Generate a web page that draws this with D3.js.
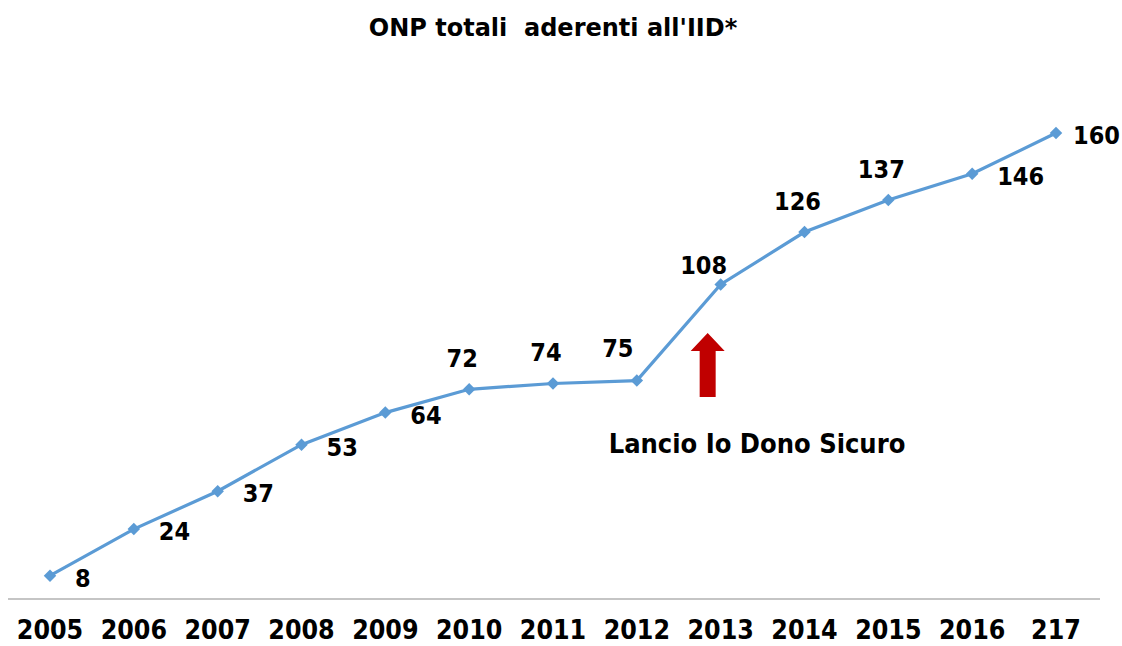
<!DOCTYPE html>
<html><head><meta charset="utf-8">
<script src="https://cdn.jsdelivr.net/npm/d3@7"></script>
<style>
body{margin:0;background:#fff;}
text{font-family:"DejaVu Sans Condensed","DejaVu Sans",sans-serif;font-weight:bold;fill:#000;}
</style></head>
<body><svg id="c" width="1122" height="646"></svg>
<script>
const categories = ["2005","2006","2007","2008","2009","2010","2011","2012","2013","2014","2015","2016","217"];
const values = [8,24,37,53,64,72,74,75,108,126,137,146,160];
const labelPlacement = ["right","right","right","right","right","above","above","aboveLeft","aboveLeft2","above","above","right","rightNear"];
const title = "ONP totali\u00a0 aderenti all'IID*";
const annotation = "Lancio Io Dono Sicuro";
const annotationCategory = "2013";

const svg = d3.select("#c");
const x = d3.scalePoint().domain(categories).range([50, 1056]);
const y = d3.scaleLinear().domain([0, 160]).range([599, 133]);

svg.append("text").attr("x", 553).attr("y", 36).attr("text-anchor","middle")
  .style("font-family","'DejaVu Sans',sans-serif")
  .style("font-size","24px").text(title);

// axis
svg.append("line").attr("x1",8).attr("x2",1100).attr("y1",y(0)).attr("y2",y(0))
  .attr("stroke","#8c8c8c").attr("stroke-width",1.2);
svg.selectAll(".xl").data(categories).enter().append("text")
  .attr("x", d=>x(d)).attr("y", 639).attr("text-anchor","middle")
  .style("font-size","26.5px").text(d=>d);

const pts = categories.map((c,i)=>({c, v:values[i], p:labelPlacement[i]}));
svg.append("path").datum(pts)
  .attr("d", d3.line().x(d=>x(d.c)).y(d=>y(d.v)))
  .attr("fill","none").attr("stroke","#5B9BD5").attr("stroke-width",3.2);
svg.selectAll(".m").data(pts).enter().append("path")
  .attr("d", d3.symbol(d3.symbolSquare, 78))
  .attr("transform", d=>`translate(${x(d.c)},${y(d.v)}) rotate(45)`)
  .attr("fill","#5B9BD5");

const off = {right:[25,11,"start"], rightNear:[17,11,"start"], above:[-7,-22,"middle"],
             aboveLeft:[-19,-24,"middle"], aboveLeft2:[-17,-10,"middle"]};
svg.selectAll(".lb").data(pts).enter().append("text")
  .attr("x", d=>x(d.c)+off[d.p][0]).attr("y", d=>y(d.v)+off[d.p][1])
  .attr("text-anchor", d=>off[d.p][2]).style("font-size","25px").text(d=>d.v);

// arrow
const ax = x(annotationCategory) - 13;
svg.append("path")
  .attr("d", `M${ax},333 L${ax+17},351 L${ax+8},351 L${ax+8},397 L${ax-8},397 L${ax-8},351 L${ax-17},351 Z`)
  .attr("fill","#C00000");
svg.append("text").attr("x", 757).attr("y", 453).attr("text-anchor","middle")
  .style("font-size","27px").text(annotation);
</script></body></html>
